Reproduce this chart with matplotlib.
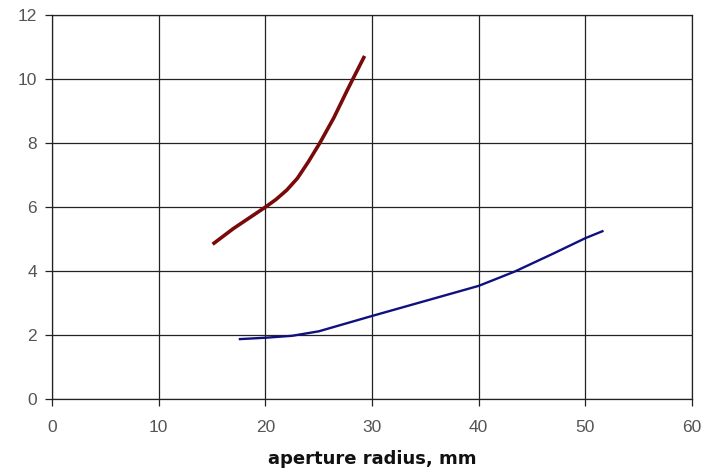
import matplotlib
matplotlib.use("Agg")
import matplotlib.pyplot as plt

red_x = [15.05, 17.0, 20.0, 21.0, 22.0, 23.0, 24.0, 25.1, 26.4, 27.6, 28.2, 29.3]
red_y = [4.84, 5.33, 6.0, 6.24, 6.53, 6.9, 7.4, 8.0, 8.78, 9.6, 10.0, 10.72]

blue_x = [17.5, 20.0, 22.5, 25.0, 30.0, 35.0, 40.0, 43.4, 47.0, 50.0, 51.7]
blue_y = [1.875, 1.92, 1.98, 2.12, 2.6, 3.07, 3.54, 3.99, 4.55, 5.03, 5.26]

x_ticks = [0, 10, 20, 30, 40, 50, 60]
y_ticks = [0, 2, 4, 6, 8, 10, 12]
x_label = "aperture radius, mm"

plt.rcParams['font.family'] = ['Liberation Sans', 'DejaVu Sans']

fig = plt.figure(figsize=(7.04, 4.68), dpi=100)
ax = fig.add_axes([0.074, 0.147, 0.909, 0.821])

ax.plot(red_x, red_y, color='#7a0a0a', linewidth=2.6, solid_capstyle='butt',
        solid_joinstyle='round', zorder=3)
ax.plot(blue_x, blue_y, color='#101080', linewidth=1.7, solid_capstyle='butt',
        solid_joinstyle='round', zorder=3)

ax.set_xlim(0, 60)
ax.set_ylim(0, 12)
ax.set_xticks(x_ticks)
ax.set_yticks(y_ticks)
ax.grid(True, color='#222222', linewidth=0.9)
ax.set_axisbelow(True)
for s in ax.spines.values():
    s.set_color('#222222')
    s.set_linewidth(0.9)
ax.tick_params(axis='both', direction='out', length=5, width=0.9, color='#222222',
               labelcolor='#555555', labelsize=12.5)
ax.tick_params(axis='x', pad=10)
ax.tick_params(axis='y', pad=6)
ax.set_xlabel(x_label, fontsize=13, fontweight='bold', color='#111111', labelpad=11,
              family=['DejaVu Sans'])

fig.savefig("out.png", dpi=100)
